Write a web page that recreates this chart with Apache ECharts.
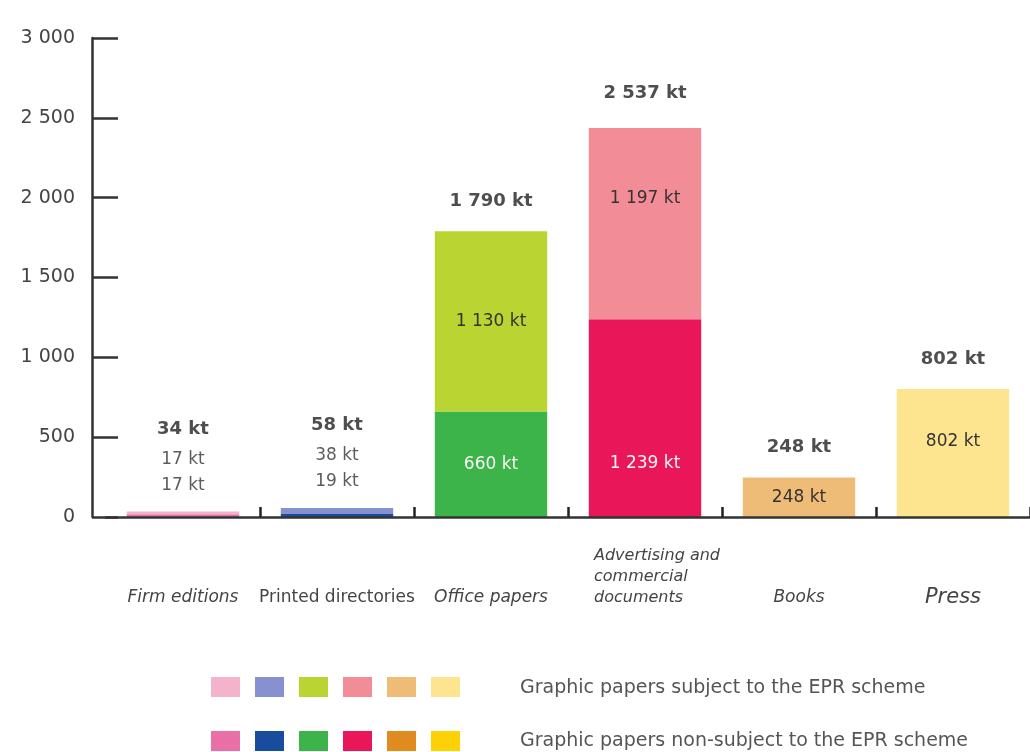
<!DOCTYPE html>
<html>
<head>
<meta charset="utf-8">
<script src="https://cdn.jsdelivr.net/npm/echarts@6/dist/echarts.min.js"></script>
<style>
  html, body { margin: 0; padding: 0; background: #ffffff; }
  #chart { width: 1030px; height: 752px; }
</style>
</head>
<body>
<div id="chart"></div>
<script>
// Graphic paper tonnage by product family (kt), split by EPR scheme status
const categories = ['Firm editions', 'Printed directories', 'Office papers', 'Advertising and\ncommercial\ndocuments', 'Books', 'Press'];
const subjectKt = [17, 38, 1130, 1197, 248, 802];
const nonSubjectKt = [17, 19, 660, 1239, 0, 0];
const totalKt = [34, 58, 1790, 2537, 248, 802];
const legendNames = ['Graphic papers subject to the EPR scheme', 'Graphic papers non-subject to the EPR scheme'];
const subjectColors = ['#f2b3cb', '#8791cf', '#bad432', '#f28d98', '#efbc77', '#fde48f'];
const nonSubjectColors = ['#e96fa7', '#1a4c9e', '#3db449', '#e9175a', '#e08b20', '#fdd106'];

const FONT = 'DejaVu Sans';
const fmt = v => String(v).replace(/\B(?=(\d{3})+(?!\d))/g, ' ');

// Bars thinner than this get their breakdown written above them instead of inside
const SMALL_TOTAL = 150;
// Per-bar nudges for the inside labels and the total labels
const subjectLabelOffset = { 3: [0, -25], 5: [0, -11] };
const nonSubjectLabelOffset = { 3: [0, 45] };
const totalLabelDistance = { 3: 2 };

const chart = echarts.init(document.getElementById('chart'), null, { renderer: 'canvas' });

function segmentData(values, colors, offsets) {
  return values.map((v, i) => {
    const item = { value: v, itemStyle: { color: colors[i] } };
    if (offsets[i]) item.label = { offset: offsets[i] };
    return item;
  });
}

function segmentLabel(color) {
  return {
    show: true,
    position: 'inside',
    color: color,
    fontFamily: FONT,
    fontSize: 17,
    formatter: p => (p.value > 0 && totalKt[p.dataIndex] >= SMALL_TOTAL) ? fmt(p.value) + ' kt' : ''
  };
}

function xLabel(value, index) {
  if (index === 1) return '{up|' + value + '}';
  if (index === 5) return '{pr|' + value + '}';
  if (value.indexOf('\n') >= 0) return value.split('\n').map(s => '{ml|' + s + '}').join('\n');
  return '{it|' + value + '}';
}

const option = {
  backgroundColor: '#ffffff',
  animation: false,
  grid: { left: 106, width: 928, top: 38, bottom: 235, containLabel: false },
  xAxis: {
    type: 'category',
    data: categories,
    z: 10,
    axisLine: { show: true, lineStyle: { color: '#333', width: 2.5 } },
    axisTick: {
      show: true, inside: true, length: 10,
      interval: (index) => index !== 0,
      lineStyle: { color: '#222', width: 2.5 }
    },
    axisLabel: {
      interval: 0,
      margin: 91,
      verticalAlign: 'bottom',
      formatter: xLabel,
      rich: {
        it: { fontFamily: FONT, fontStyle: 'italic', fontSize: 17, lineHeight: 21, color: '#444' },
        up: { fontFamily: FONT, fontSize: 17, lineHeight: 21, color: '#444' },
        pr: { fontFamily: FONT, fontStyle: 'italic', fontSize: 21, lineHeight: 21, color: '#444' },
        ml: { fontFamily: FONT, fontStyle: 'italic', fontSize: 16, lineHeight: 21, color: '#444', align: 'left', padding: [0, 0, 0, 24] }
      }
    }
  },
  yAxis: {
    type: 'value',
    min: 0,
    max: 3000,
    interval: 500,
    offset: 14,
    z: 10,
    axisLine: { show: true, lineStyle: { color: '#333', width: 2.5 } },
    axisTick: { show: true, inside: true, length: 26, lineStyle: { color: '#333', width: 2.5 } },
    splitLine: { show: false },
    axisLabel: { margin: 17, color: '#444', fontFamily: FONT, fontSize: 19, formatter: v => fmt(v) }
  },
  series: [
    {
      name: legendNames[1],
      type: 'bar',
      stack: 'kt',
      barWidth: '73%',
      data: segmentData(nonSubjectKt, nonSubjectColors, nonSubjectLabelOffset),
      label: segmentLabel('#f6f6f6')
    },
    {
      name: legendNames[0],
      type: 'bar',
      stack: 'kt',
      barWidth: '73%',
      data: segmentData(subjectKt, subjectColors, subjectLabelOffset),
      label: segmentLabel('#333')
    },
    {
      name: 'Total',
      type: 'scatter',
      symbolSize: 0,
      silent: true,
      z: 5,
      data: totalKt.map((v, i) => {
        const item = { value: v };
        if (totalLabelDistance[i] !== undefined) item.label = { distance: totalLabelDistance[i] };
        return item;
      }),
      label: {
        show: true,
        position: 'top',
        distance: 13,
        formatter: p => {
          const i = p.dataIndex;
          let s = '{t|' + fmt(totalKt[i]) + ' kt}';
          if (totalKt[i] < SMALL_TOTAL) {
            s += '\n{n|' + fmt(subjectKt[i]) + ' kt}\n{n|' + fmt(nonSubjectKt[i]) + ' kt}';
          }
          return s;
        },
        rich: {
          t: { fontFamily: FONT, fontWeight: 'bold', fontSize: 18, lineHeight: 34, color: '#222' },
          n: { fontFamily: FONT, fontSize: 17, lineHeight: 26, color: '#333' }
        }
      }
    }
  ],
  graphic: [
    ...subjectColors.map((c, i) => ({
      type: 'rect', shape: { x: 211 + i * 44, y: 677, width: 29, height: 20 }, style: { fill: c }, silent: true
    })),
    ...nonSubjectColors.map((c, i) => ({
      type: 'rect', shape: { x: 211 + i * 44, y: 731, width: 29, height: 20 }, style: { fill: c }, silent: true
    })),
    { type: 'text', x: 520, y: 688, style: { text: legendNames[0], fill: '#555', font: '19px "DejaVu Sans"', verticalAlign: 'middle' }, silent: true },
    { type: 'text', x: 520, y: 741, style: { text: legendNames[1], fill: '#555', font: '19px "DejaVu Sans"', verticalAlign: 'middle' }, silent: true }
  ]
};

chart.setOption(option);
</script>
</body>
</html>
